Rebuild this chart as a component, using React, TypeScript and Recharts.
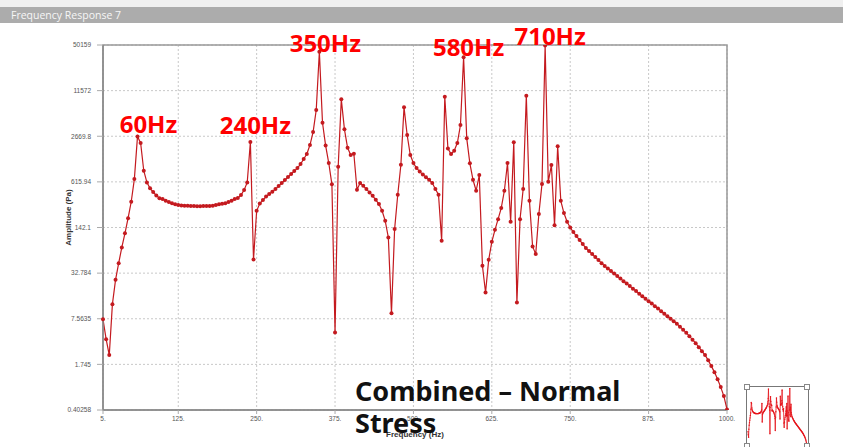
import React from 'react'
import {
  LineChart,
  Line,
  XAxis,
  YAxis,
  CartesianGrid,
  ReferenceArea,
  ReferenceDot,
} from 'recharts'

// sweep is sampled every 5 Hz from 5 Hz to 1000 Hz
const FREQ_START = 5
const FREQ_STEP = 5

// amplitude (Pa)
const BAND_5_250 = [
  7.44, 3.92, 2.35, 12.1, 26.4, 45.2, 74.9, 118, 192, 325,
  674, 2640, 2146, 881, 606, 500, 445, 398, 364, 354,
  335, 322, 309, 299, 292, 289, 286, 285, 283, 283,
  282, 282, 283, 283, 284, 286, 292, 299, 305, 311,
  322, 335, 354, 366, 403, 473, 606, 2216, 50.6, 243,
]
const BAND_255_500 = [
  307, 343, 384, 416, 448, 489, 538, 593, 653, 719,
  792, 872, 960, 1092, 1283, 1506, 2011, 3056, 6200, 40400,
  4123, 1980, 1129, 569, 4.87, 1001, 8752, 3335, 1845, 1458,
  1521, 478, 593, 543, 489, 439, 394, 346, 302, 243,
  176, 103, 9.05, 135, 407, 1068, 6766, 2776, 1458, 1129,
]
const BAND_505_750 = [
  960, 858, 779, 712, 659, 593, 489, 407, 92.7, 9516,
  1797, 1506, 1675, 2146, 3826, 33760, 2496, 1117, 659, 463,
  767, 41.5, 17.6, 50.3, 89.7, 132, 186, 265, 463, 1129,
  171, 2194, 12.8, 186, 489, 9828, 335, 77.4, 60.4, 219,
  574, 49500, 616, 1057, 153, 1930, 335, 226, 171, 142,
]
const BAND_755_1000 = [
  122.6, 107.8, 94.8, 83.3, 73.3, 66.5, 60.4, 54.9, 49.8, 45.2,
  41.1, 37.9, 35.0, 32.3, 29.8, 27.5, 25.3, 23.4, 21.6, 19.9,
  18.4, 16.9, 15.6, 14.4, 13.3, 12.3, 11.3, 10.5, 9.65, 8.9,
  8.22, 7.58, 7.0, 6.46, 5.87, 5.33, 4.84, 4.32, 3.86, 3.45,
  3.03, 2.67, 2.35, 2.0, 1.65, 1.36, 1.08, 0.84, 0.63, 0.41,
]

const X_TICKS = [5, 125, 250, 375, 500, 625, 750, 875, 1000]
const Y_TICKS = [0.40258, 1.745, 7.5635, 32.784, 142.1, 615.94, 2669.8, 11572, 50159]

const PEAK_FREQS = [60, 240, 350, 580, 710]
const PEAK_LABELS = ['60Hz', '240Hz', '350Hz', '580Hz', '710Hz']

// label nudges relative to the peak point (px)
const PEAK_NUDGE = [
  { dx: 11, dy: -4 },
  { dx: 5, dy: -8 },
  { dx: 6, dy: 0 },
  { dx: 5, dy: -1 },
  { dx: 5, dy: 0 },
]

const RED = '#c41a1f'
const SANS = '"Liberation Sans", Arial, sans-serif'
const BOLD_SANS = '"Noto Sans", "Open Sans", sans-serif'

const data = [...BAND_5_250, ...BAND_255_500, ...BAND_505_750, ...BAND_755_1000].map(
  (amp, i) => ({ freq: FREQ_START + i * FREQ_STEP, amp })
)

const ampAt = (f: number) => data.find((d) => d.freq === f)?.amp ?? 1

const PeakTag = (props: any) => {
  const vb = props.viewBox
  if (!vb) return null
  const cx = vb.x + (vb.width || 0) / 2
  const cy = vb.y + (vb.height || 0) / 2
  return (
    <text
      x={cx + props.tx}
      y={cy + props.ty}
      textAnchor="middle"
      fill="#ff0000"
      style={{ fontFamily: BOLD_SANS, fontWeight: 700, fontSize: 24 }}
    >
      {props.text}
    </text>
  )
}

const YTitle = (props: any) => {
  const vb = props.viewBox
  if (!vb) return null
  const x = vb.x + 25
  const y = vb.y + vb.height / 2 - 10
  return (
    <text
      x={x}
      y={y}
      transform={`rotate(-90 ${x} ${y})`}
      textAnchor="middle"
      dominantBaseline="central"
      fill="#333"
      style={{ fontFamily: SANS, fontWeight: 700, fontSize: 8 }}
    >
      Amplitude (Pa)
    </text>
  )
}

const XTitle = (props: any) => {
  const vb = props.viewBox
  if (!vb) return null
  return (
    <text
      x={vb.x + vb.width / 2}
      y={vb.y + 27}
      textAnchor="middle"
      fill="#333"
      style={{ fontFamily: SANS, fontWeight: 700, fontSize: 8 }}
    >
      Frequency (Hz)
    </text>
  )
}

const Corner = ({ left, top }: { left: number; top: number }) => (
  <div
    style={{
      position: 'absolute',
      left,
      top,
      width: 4,
      height: 4,
      background: '#fff',
      border: '1px solid #888',
    }}
  />
)

export default function App() {
  const tickStyle = { fontFamily: SANS, fontSize: 6.5, fill: '#555' }
  return (
    <div
      style={{
        position: 'absolute',
        left: 0,
        top: 0,
        width: 843,
        height: 447,
        background: '#fff',
        overflow: 'hidden',
        fontFamily: SANS,
      }}
    >
      <div style={{ position: 'absolute', left: 0, top: 0, width: 843, height: 7, background: '#f0f0f0' }} />
      <div
        style={{
          position: 'absolute',
          left: 0,
          top: 7,
          width: 843,
          height: 16,
          background: '#acacac',
          color: '#f6f6f6',
          fontFamily: '"Open Sans", sans-serif',
          fontSize: 10.5,
          lineHeight: '16px',
          paddingLeft: 11,
          boxSizing: 'border-box',
        }}
      >
        Frequency Response 7
      </div>

      <div style={{ position: 'absolute', left: 0, top: 0 }}>
        <LineChart
          width={843}
          height={447}
          data={data}
          margin={{ top: 45, right: 116, bottom: 12, left: 43 }}
        >
          <CartesianGrid stroke="#c8c8c8" strokeDasharray="2 2" />
          <XAxis
            dataKey="freq"
            type="number"
            domain={[5, 1000]}
            ticks={X_TICKS}
            tickFormatter={(v) => `${v}.`}
            tick={tickStyle}
            tickLine={{ stroke: '#aaa' }}
            tickSize={4}
            axisLine={{ stroke: '#888', strokeWidth: 1.5 }}
            height={25}
            label={<XTitle />}
          />
          <YAxis
            type="number"
            scale="log"
            domain={[0.40258, 50159]}
            allowDataOverflow
            ticks={Y_TICKS}
            tick={tickStyle}
            tickLine={{ stroke: '#aaa' }}
            tickSize={6}
            tickMargin={6}
            axisLine={{ stroke: '#888', strokeWidth: 1.5 }}
            width={60}
            label={<YTitle />}
          />
          <ReferenceArea
            x1={5}
            x2={1000}
            y1={0.40258}
            y2={50159}
            fill="none"
            stroke="#999"
            strokeWidth={1.5}
          />
          <Line
            type="linear"
            dataKey="amp"
            stroke={RED}
            strokeWidth={1.2}
            dot={{ r: 2, fill: RED, stroke: 'none' }}
            isAnimationActive={false}
          />
          {PEAK_FREQS.map((f, i) => (
            <ReferenceDot
              key={f}
              x={f}
              y={ampAt(f)}
              r={0.5}
              fill="none"
              stroke="none"
              label={<PeakTag text={PEAK_LABELS[i]} tx={PEAK_NUDGE[i].dx} ty={PEAK_NUDGE[i].dy} />}
            />
          ))}
        </LineChart>
      </div>

      <svg
        width={843}
        height={447}
        style={{ position: 'absolute', left: 0, top: 0, pointerEvents: 'none' }}
      >
        <text x={355} y={401} fill="#111" style={{ fontFamily: BOLD_SANS, fontWeight: 700, fontSize: 27 }}>
          Combined – Normal
        </text>
        <text x={355} y={433} fill="#111" style={{ fontFamily: BOLD_SANS, fontWeight: 700, fontSize: 27 }}>
          Stress
        </text>
      </svg>

      <div
        style={{
          position: 'absolute',
          left: 746,
          top: 386,
          width: 61,
          height: 60,
          border: '1px solid #777',
          background: '#fff',
        }}
      >
        <LineChart width={61} height={60} data={data} margin={{ top: 1, right: 1, bottom: 1, left: 1 }}>
          <XAxis dataKey="freq" type="number" domain={[5, 1000]} hide />
          <YAxis type="number" scale="log" domain={[0.40258, 50159]} allowDataOverflow hide />
          <Line
            type="linear"
            dataKey="amp"
            stroke="#e5141b"
            strokeWidth={0.8}
            dot={{ r: 0.7, fill: '#e5141b', stroke: 'none' }}
            isAnimationActive={false}
          />
        </LineChart>
        <Corner left={-3} top={-3} />
        <Corner left={57} top={-3} />
        <Corner left={-3} top={56} />
        <Corner left={57} top={56} />
      </div>
    </div>
  )
}
